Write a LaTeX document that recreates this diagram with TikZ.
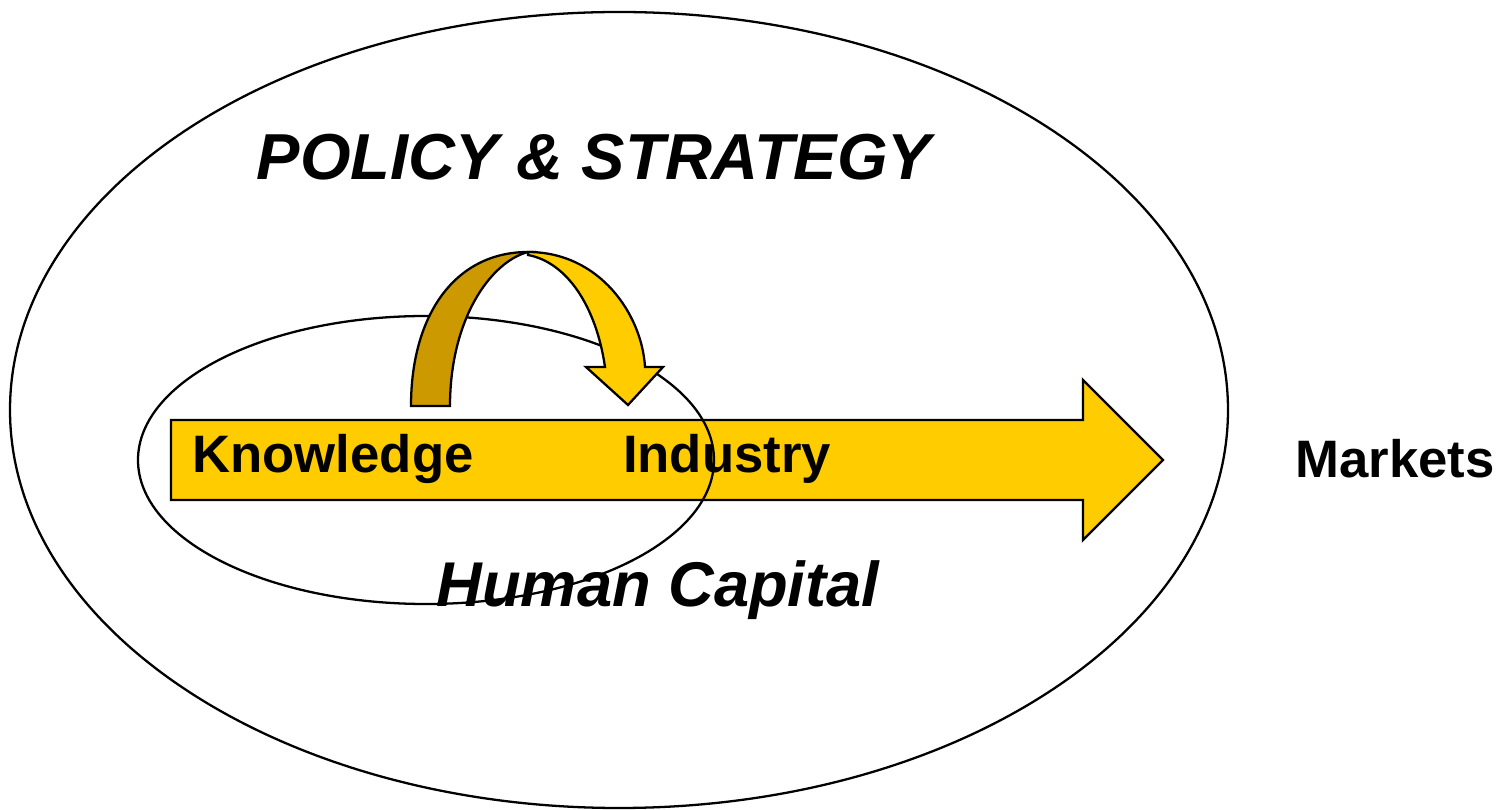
\documentclass[tikz,border=0pt]{standalone}
\usepackage{fontspec}
\setmainfont{Liberation Sans}
\usepackage{xcolor}
\definecolor{gold}{HTML}{FFCC00}
\definecolor{darkgold}{HTML}{CC9900}
\tikzset{
  rim/.style = {draw=black, line width=1.3pt},
  flow/.style = {rim, fill=gold, line join=miter},
  flowback/.style = {rim, fill=darkgold},
  bigword/.style = {font=\fontsize{36}{40}\selectfont\bfseries\itshape, inner sep=0pt},
  stage/.style = {font=\fontsize{30}{34}\selectfont\bfseries, inner sep=0pt}
}

\begin{document}
\begin{tikzpicture}[x=0.02cm, y=-0.02cm]
\useasboundingbox (0,0) rectangle (1499,810);
% outer field
\draw [rim] (619,410) ellipse [x radius=609, y radius=398];
\node [bigword, font=\fontsize{37}{40}\selectfont\bfseries\itshape] (policy) at (594,157) {POLICY \& STRATEGY};
\node [bigword] (human) at (658,590) {Human Capital};
% main arrow
\draw [flow] (171,420) -- (1083,420) -- (1083,380) -- (1163,460)
  -- (1083,540) -- (1083,500) -- (171,500) -- cycle;
\node [stage] (knowledge) at (333,459) {Knowledge};
\node [stage] (industry) at (727,459) {Industry};
\node [stage] (markets) at (1395,459) {Markets};
% inner field
\draw [rim] (426,460) ellipse [x radius=288, y radius=144];
% loop arrow
\draw [flowback] (411,406) .. controls (411,315) and (455,252) .. (528,252)
  .. controls (490,262) and (450,320) .. (450,406) -- cycle;
\draw [flow] (528,252) .. controls (600,252) and (642,315) .. (645,367)
  -- (663,367) -- (628,405) -- (586,367) -- (605,367)
  .. controls (596,305) and (566,262) .. (528,255) -- cycle;
\end{tikzpicture}
\end{document}
